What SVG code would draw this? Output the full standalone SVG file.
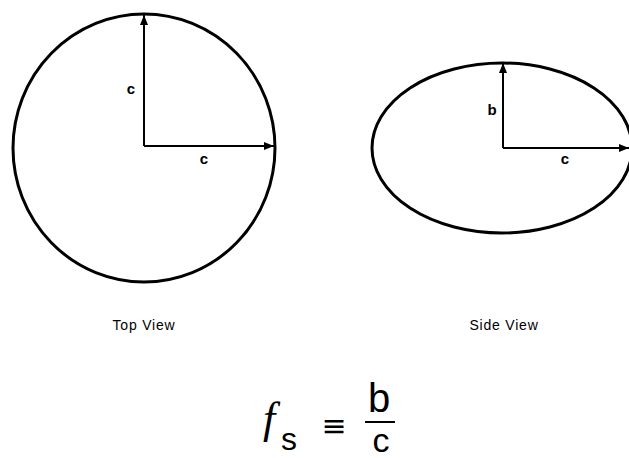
<svg xmlns="http://www.w3.org/2000/svg" width="629" height="458" viewBox="0 0 629 458">
<style>
.shape{fill:none;stroke:#000;stroke-width:3}
.ax{fill:none;stroke:#000;stroke-width:2;marker-end:url(#ah)}
.lbl{font-family:"Liberation Sans",Arial,sans-serif;font-weight:bold;font-size:15px;text-anchor:middle;fill:#000}
.cap{font-family:"Liberation Sans",Arial,sans-serif;font-size:14px;text-anchor:middle;fill:#000;letter-spacing:0.8px}
.math{font-family:"Liberation Sans",Arial,sans-serif;fill:#000}
</style>
<defs>
<marker id="ah" viewBox="0 0 10 8" refX="10" refY="4" markerWidth="10" markerHeight="8" markerUnits="userSpaceOnUse" orient="auto">
<path d="M0,0 L10,4 L0,8 Z" fill="#000"/>
</marker>
</defs>
<rect width="629" height="458" fill="#fff"/>
<g id="top-view">
<ellipse class="shape" cx="144" cy="148" rx="131" ry="134"/>
<text class="cap" x="144" y="330">Top View</text>
</g>
<g id="side-view">
<ellipse class="shape" cx="502" cy="148" rx="130" ry="85"/>
<text class="cap" x="504" y="330">Side View</text>
</g>
<g id="connectors">
<path class="ax" d="M144,146 V15"/>
<path class="ax" d="M144,146 H274"/>
<path class="ax" d="M503,148 V63"/>
<path class="ax" d="M503,148 H629"/>
</g>
<g id="labels">
<text class="lbl" x="131" y="94">c</text>
<text class="lbl" x="204" y="164">c</text>
<text class="lbl" x="492" y="115">b</text>
<text class="lbl" x="565" y="164">c</text>
</g>
<g id="formula">
<text x="263" y="433" font-family="'Liberation Serif','Times New Roman',serif" font-style="italic" font-size="44" fill="#000">f</text>
<text class="math" x="281" y="450" font-size="32">s</text>
<text x="334" y="436" font-family="'DejaVu Sans',sans-serif" font-size="30" text-anchor="middle" fill="#000">≡</text>
<text class="math" x="379" y="412" font-size="40" text-anchor="middle">b</text>
<line x1="365" y1="422" x2="395" y2="422" stroke="#000" stroke-width="2"/>
<text class="math" x="381" y="452" font-size="34" text-anchor="middle">c</text>
</g>
</svg>
